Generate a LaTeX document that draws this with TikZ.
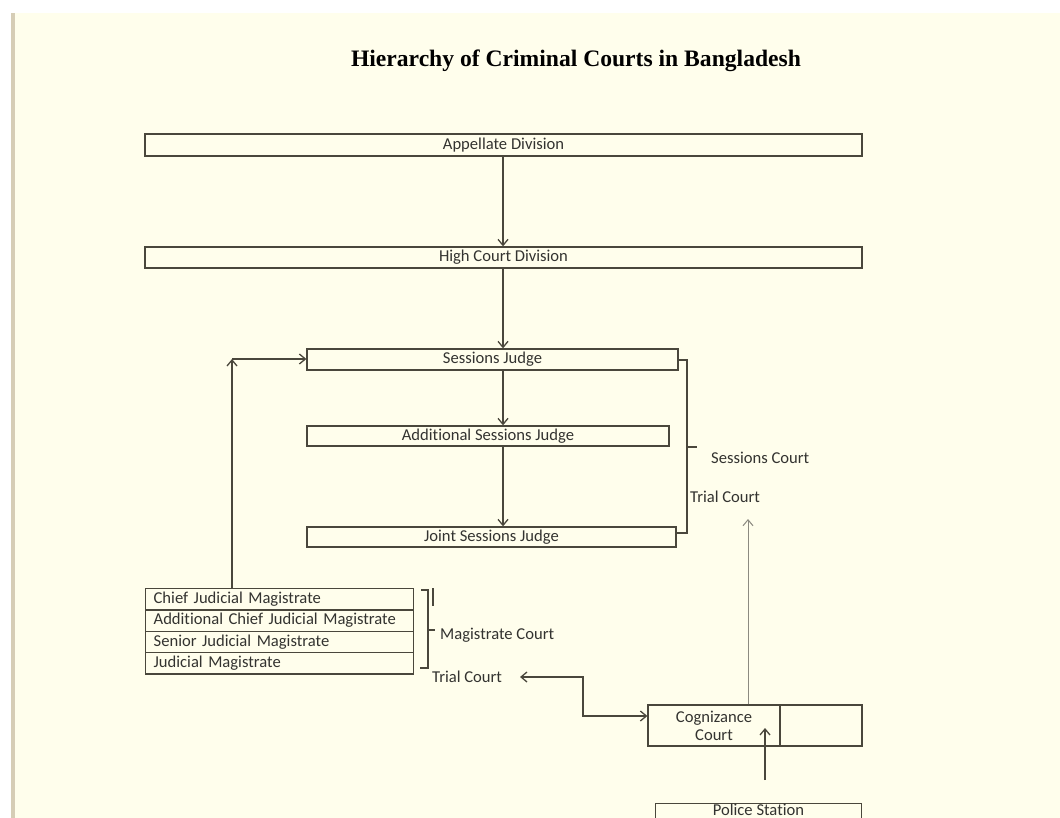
\documentclass[tikz,border=0pt]{standalone}
\usepackage{fontspec}
\setmainfont{Carlito}[Ligatures=NoCommon]
\newfontfamily\titlefont{Liberation Serif}
\usetikzlibrary{arrows.meta}
\definecolor{bg}{HTML}{FFFEEC}
\definecolor{ln}{HTML}{4A473C}
\definecolor{lt}{HTML}{8C8A80}
\definecolor{tan}{HTML}{D6CDB6}
\definecolor{txt}{HTML}{333330}
\begin{document}
\begin{tikzpicture}[x=1pt,y=-1pt,
  fnt/.style={font=\fontsize{16.6}{18}\selectfont},
  box/.style={draw=ln,line width=1.3pt,inner sep=0pt,fnt,text=txt},
  row/.style={draw=ln,line width=1.3pt,inner xsep=8pt,inner ysep=0pt,minimum height=21.3pt,text width=252pt,align=left,fnt,text=txt,anchor=north west},
  lab/.style={fnt,text=txt,inner sep=0pt,anchor=west},
  conn/.style={draw=ln,line width=1.3pt,-{Straight Barb[length=6pt,width=10pt]}},
  plain/.style={draw=ln,line width=1.3pt}]
\useasboundingbox (0,0) rectangle (1060,818);
\fill[white] (0,0) rectangle (1060,818);
\fill[bg] (15,13) rectangle (1060,818);
\fill[tan] (11,13) rectangle (15,818);
\node[font=\titlefont\bfseries\fontsize{23.6}{26}\selectfont,text=black] (title) at (576,61) {Hierarchy of Criminal Courts in Bangladesh};
\node[box,minimum width=717pt,minimum height=22pt] (ad) at (503.5,145) {Appellate Division};
\node[box,minimum width=717pt,minimum height=21pt] (hc) at (503.5,257.5) {High Court Division};
\node[box,minimum width=371pt,minimum height=21pt] (sj) at (492.5,359.5) {Sessions Judge};
\node[box,minimum width=362pt,minimum height=20pt] (asj) at (488,436) {Additional Sessions Judge};
\node[box,minimum width=369pt,minimum height=20pt] (jsj) at (491.5,537) {Joint Sessions Judge};
\draw[conn] (ad.south -| 503,0) -- (hc.north -| 503,0);
\draw[conn] (hc.south -| 503,0) -- (sj.north -| 503,0);
\draw[conn] (sj.south -| 503,0) -- (asj.north -| 503,0);
\draw[conn] (asj.south -| 503,0) -- (jsj.north -| 503,0);
% sessions bracket
\coordinate (b1) at (687,360);
\coordinate (b2) at (687,533);
\coordinate (bm) at (687,447);
\draw[plain] (sj.east |- b1) -- (b1) -- (b2) -- (jsj.east |- b2);
\draw[plain] (bm) -- (697,447);
\node[lab] (sc) at (711,458) {Sessions Court};
\node[lab] (tc1) at (690,497) {Trial Court};
% magistrate rows
\node[row] (cjm) at (145,588) {Chief Judicial Magistrate};
\node[row] (acjm) at (145,609.3) {Additional Chief Judicial Magistrate};
\node[row] (sjm) at (145,630.6) {Senior Judicial Magistrate};
\node[row] (jm) at (145,651.9) {Judicial Magistrate};
% magistrate bracket
\coordinate (m1) at (428,590);
\coordinate (m2) at (428,668);
\coordinate (mm) at (428,630);
\draw[plain] (421,590) -- (m1) -- (m2) -- (420,668);
\draw[plain] (mm) -- (435,630);
\draw[plain] (433,588) -- (433,606);
\node[lab] (mc) at (440,635) {Magistrate Court};
\node[lab] (tc2) at (432,677) {Trial Court};
% magistrate to sessions
\coordinate (corner) at (232,359);
\draw[conn] (cjm.north -| corner) -- (corner);
\draw[conn] (corner) -- (sj.west |- corner);
% cognizance court
\node[box,minimum width=132pt,minimum height=41pt,align=center,font=\fontsize{16.6}{18}\selectfont] (cc) at (714,725.5) {Cognizance\\Court};
\node[box,minimum width=82pt,minimum height=41pt] (cc2) at (821,725.5) {};
\node[box,minimum width=206pt,minimum height=30pt,anchor=north] (ps) at (758.5,803) {};
\node[lab,anchor=center] (pst) at (758.5,810) {Police Station};
% elbow double arrow
\coordinate (e1) at (583,677);
\coordinate (e2) at (583,716);
\draw[plain,{Straight Barb[length=6pt,width=10pt]}-{Straight Barb[length=6pt,width=10pt]}] (520,677) -- (e1) -- (e2) -- (cc.west |- e2);
% cognizance to trial court
\draw[draw=lt,line width=1pt,-{Straight Barb[length=6pt,width=10pt]}] (cc.north -| 748,0) -- (748,519);
% police station to cognizance
\draw[conn] (ps.north -| 765,0) ++(0,-23) -- (765,728);
\end{tikzpicture}
\end{document}
